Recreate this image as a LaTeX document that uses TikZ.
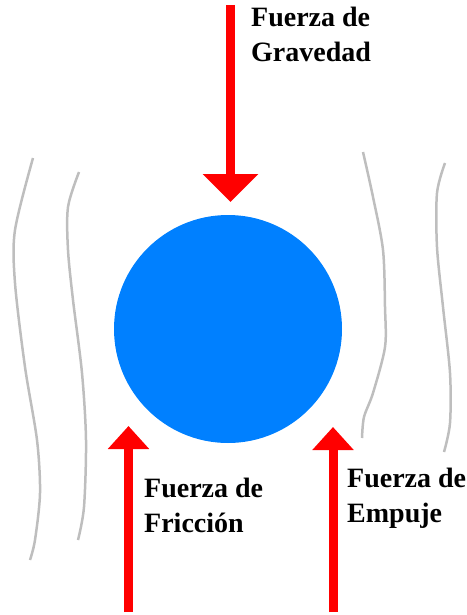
\documentclass[tikz,border=0pt]{standalone}
\usepackage{fontspec}
\setmainfont{Liberation Serif}
\usetikzlibrary{arrows.meta}
\definecolor{ballblue}{RGB}{0,128,255}
\definecolor{wavegray}{RGB}{190,190,190}
\definecolor{forcered}{RGB}{255,0,0}
\begin{document}
\begin{tikzpicture}[x=1pt,y=-1pt,
  force/.style={draw=forcered,line width=9pt},
  bighead/.style={-{Triangle[length=28pt,width=54pt]}},
  smallhead/.style={-{Triangle[length=23pt,width=40pt]}},
  wave/.style={draw=wavegray,line width=2.5pt},
  lbl/.style={anchor=base west,inner sep=0pt,font=\bfseries\fontsize{28}{35}\selectfont,align=left}]
\useasboundingbox (0,0) rectangle (466,615);
% ball
\node[circle,fill=ballblue,minimum width=228pt,minimum height=228pt,inner sep=0pt] (ball) at (228,329) {};
% waves
\draw[wave] plot[smooth] coordinates {(33,158) (15,230) (15,283) (25,367) (37,440) (40,493) (35,540) (30,560)};
\draw[wave] plot[smooth] coordinates {(79,172) (68,207) (68,250) (73,300) (82,373) (86,440) (84,507) (78,540)};
\draw[wave] plot[smooth] coordinates {(363,152) (373,197) (383,250) (385,307) (385,347) (373,393) (364,417) (362,438)};
\draw[wave] plot[smooth] coordinates {(445,163) (437,193) (437,247) (443,307) (450,373) (450,423) (444,452)};
% force anchors
\coordinate (gtop) at (230.5,5);
\coordinate (gtip) at (230.5,202);
\coordinate (fbot) at (128.5,612);
\coordinate (ftip) at (128.5,426);
\coordinate (ebot) at (333,612);
\coordinate (etip) at (333,427);
\draw[force,bighead] (gtop) -- (gtip);
\draw[force,smallhead] (fbot) -- (ftip);
\draw[force,smallhead] (ebot) -- (etip);
% labels (anchored at the baseline of the last line)
\node[lbl] (lg) at (251,62) {Fuerza de\\Gravedad};
\node[lbl] (lf) at (144,532) {Fuerza de\\Fricción};
\node[lbl] (le) at (347,522) {Fuerza de\\Empuje};
\end{tikzpicture}
\end{document}
